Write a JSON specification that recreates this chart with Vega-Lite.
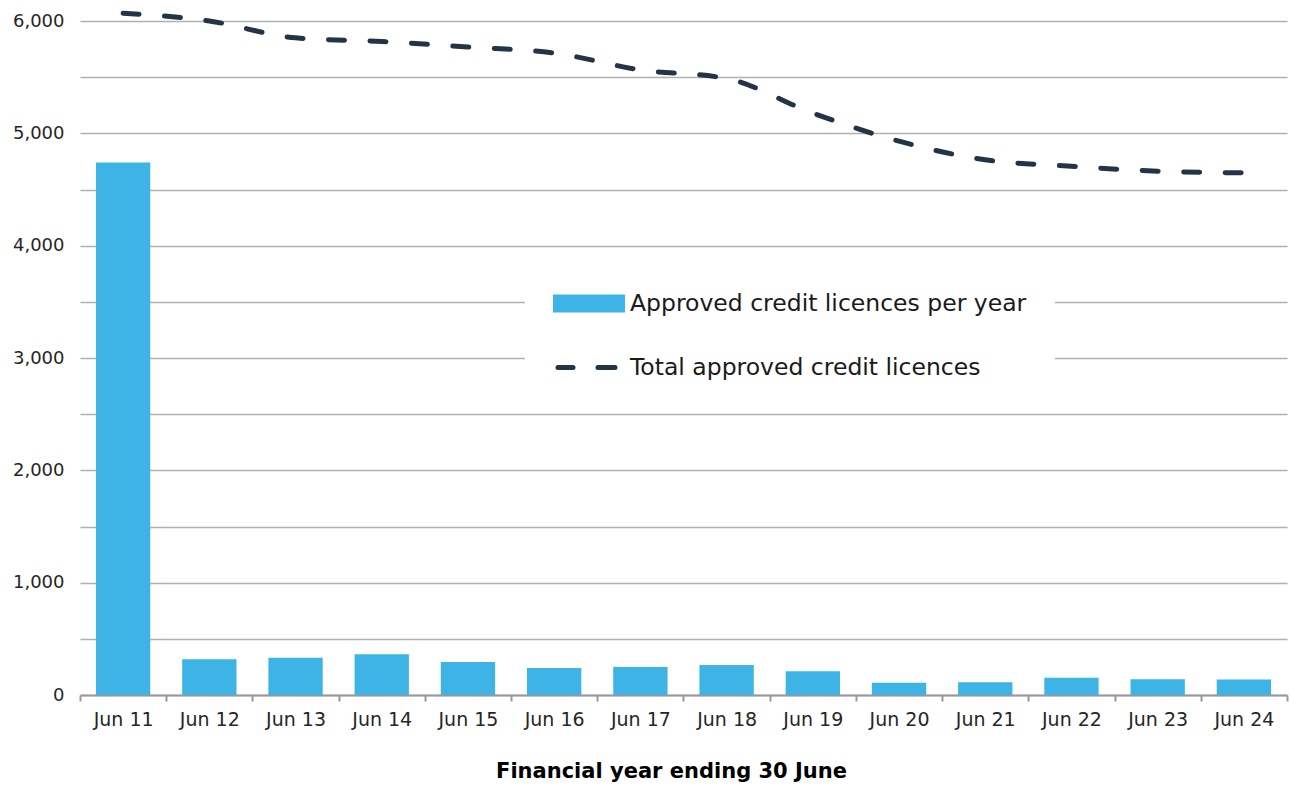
{
  "$schema": "https://vega.github.io/schema/vega-lite/v6.json",
  "width": 1207,
  "height": 674,
  "autosize": {"type": "none"},
  "padding": {"left": 80, "top": 21, "right": 3, "bottom": 93},
  "background": "white",
  "config": {"view": {"stroke": null}, "font": "DejaVu Sans"},
  "data": {
    "values": [
      {"year": "Jun 11", "per_year": 4740, "total": 6070},
      {"year": "Jun 12", "per_year": 318, "total": 6000},
      {"year": "Jun 13", "per_year": 332, "total": 5850},
      {"year": "Jun 14", "per_year": 362, "total": 5818},
      {"year": "Jun 15", "per_year": 294, "total": 5768},
      {"year": "Jun 16", "per_year": 240, "total": 5715},
      {"year": "Jun 17", "per_year": 249, "total": 5565},
      {"year": "Jun 18", "per_year": 267, "total": 5488},
      {"year": "Jun 19", "per_year": 211, "total": 5180},
      {"year": "Jun 20", "per_year": 110, "total": 4930},
      {"year": "Jun 21", "per_year": 113, "total": 4764},
      {"year": "Jun 22", "per_year": 154, "total": 4707},
      {"year": "Jun 23", "per_year": 140, "total": 4663},
      {"year": "Jun 24", "per_year": 137, "total": 4648}
    ]
  },
  "encoding": {
    "x": {
      "field": "year",
      "type": "ordinal",
      "sort": null,
      "scale": {"paddingInner": 0, "paddingOuter": 0},
      "axis": {
        "title": "Financial year ending 30 June",
        "titleFontSize": 21,
        "titleFontWeight": "bold",
        "titleColor": "#000000",
        "titlePadding": 31,
        "titleX": 591,
        "titleAlign": "center",
        "labelAngle": 0,
        "labelFontSize": 19,
        "labelColor": "#262626",
        "labelPadding": 9,
        "tickBand": "extent",
        "tickSize": 6,
        "tickColor": "#999999",
        "tickWidth": 2,
        "domainColor": "#999999",
        "domainWidth": 2,
        "grid": false
      }
    }
  },
  "layer": [
    {
      "mark": {"type": "bar", "width": {"band": 0.63}},
      "encoding": {
        "y": {
          "field": "per_year",
          "type": "quantitative",
          "scale": {"domain": [0, 6000], "nice": false},
          "axis": {
            "title": null,
            "values": [0, 500, 1000, 1500, 2000, 2500, 3000, 3500, 4000, 4500, 5000, 5500, 6000],
            "labelExpr": "datum.value % 1000 === 0 ? format(datum.value, ',') : ''",
            "labelOverlap": false,
            "labelFontSize": 18,
            "labelColor": "#262626",
            "labelPadding": 16,
            "grid": true,
            "gridColor": "#B0B0B0",
            "gridWidth": 1.5,
            "domain": false,
            "ticks": false
          }
        },
        "color": {
          "datum": "Approved credit licences per year",
          "type": "nominal",
          "scale": {
            "domain": ["Approved credit licences per year", "Total approved credit licences"],
            "range": ["#3DB4E5", "#243447"]
          },
          "legend": {
            "title": null,
            "orient": "none",
            "legendX": 445,
            "legendY": 242,
            "fillColor": "#FFFFFF",
            "padding": 28,
            "symbolSize": 400,
            "labelFontSize": 23.5,
            "labelColor": "#1A1A1A",
            "labelOffset": 52,
            "labelLimit": 0,
            "rowPadding": 35,
            "encode": {
              "symbols": {
                "update": {
                  "shape": {"signal": "datum.value === 'Approved credit licences per year' ? 'M-1,-0.65H5.7V0.65H-1Z' : 'M-0.75,0H0.75M3.25,0H4.95'"},
                  "fill": {"signal": "datum.value === 'Approved credit licences per year' ? '#3DB4E5' : 'transparent'"},
                  "stroke": {"signal": "datum.value === 'Approved credit licences per year' ? 'transparent' : '#243447'"},
                  "strokeWidth": {"value": 5},
                  "strokeCap": {"value": "round"},
                  "opacity": {"value": 1}
                }
              }
            }
          }
        }
      }
    },
    {
      "mark": {"type": "line", "interpolate": "monotone", "strokeWidth": 5, "strokeDash": [16, 25.5], "strokeCap": "round", "clip": false},
      "encoding": {
        "y": {"field": "total", "type": "quantitative"},
        "color": {"datum": "Total approved credit licences", "type": "nominal"}
      }
    }
  ]
}
